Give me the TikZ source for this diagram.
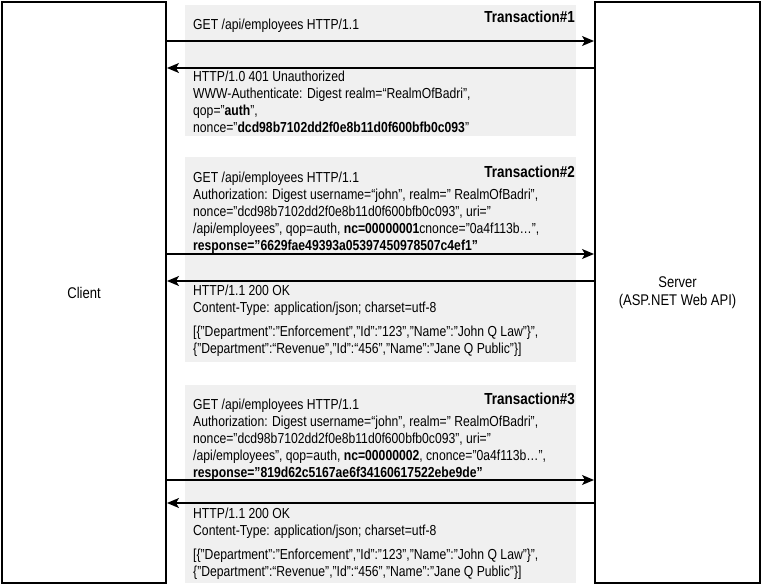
\documentclass[tikz,border=0pt]{standalone}
\usepackage{fontspec}
\setmainfont[FakeStretch=0.84]{Liberation Sans}
\usepackage{tikz}
\usetikzlibrary{arrows.meta}

\begin{document}
\begin{tikzpicture}[x=1pt,y=-1pt,
    hostbox/.style={draw=black, line width=2pt, minimum height=581pt, align=center, font=\fontsize{15.5}{18}\selectfont},
    msgarrow/.style={black, line width=1.3pt, -{Stealth[length=12pt,width=10pt,inset=3pt]}},
    msgtext/.style={anchor=north west, inner sep=0pt, align=left, font=\fontsize{14.5}{17}\selectfont},
    txlabel/.style={anchor=base east, inner sep=0pt, font=\fontsize{16}{18}\selectfont\bfseries},
    graybg/.style={fill=black!6}]
        \useasboundingbox (0,0) rectangle (763,585);

        % shaded transaction bands
        \fill[graybg] (185,5) rectangle (576,136);
        \fill[graybg] (185,157) rectangle (576,362);
        \fill[graybg] (185,385) rectangle (576,583);

        % the two hosts
        \node[hostbox, minimum width=164pt] (client) at (84,292.5) {Client};
        \node[hostbox, minimum width=165pt] (server) at (677.5,292.5) {Server\\(ASP.NET Web API)};

        % rows of the messages
        \coordinate (req1) at (0,41);
        \coordinate (res1) at (0,68);
        \coordinate (req2) at (0,254);
        \coordinate (res2) at (0,281);
        \coordinate (req3) at (0,480);
        \coordinate (res3) at (0,503);

        \draw[msgarrow] (client.east |- req1) -- (server.west |- req1);
        \draw[msgarrow] (server.west |- res1) -- (client.east |- res1);
        \draw[msgarrow] (client.east |- req2) -- (server.west |- req2);
        \draw[msgarrow] (server.west |- res2) -- (client.east |- res2);
        \draw[msgarrow] (client.east |- req3) -- (server.west |- req3);
        \draw[msgarrow] (server.west |- res3) -- (client.east |- res3);

        % transaction 1
        \node[txlabel] (tx1) at (575,23) {Transaction\#1};
        \node[msgtext] (req1text) at (193,19) {GET /api/employees HTTP/1.1};
        \node[msgtext] (res1text) at (193,71) {HTTP/1.0 401 Unauthorized\\
            WWW-Authenticate: Digest realm=“RealmOfBadri",\\
            qop="\textbf{auth}",\\
            nonce="\textbf{dcd98b7102dd2f0e8b11d0f600bfb0c093}"};

        % transaction 2
        \node[txlabel] (tx2) at (575,178) {Transaction\#2};
        \node[msgtext] (req2text) at (193,172) {GET /api/employees HTTP/1.1\\
            Authorization: Digest username=“john", realm=" RealmOfBadri",\\
            nonce="dcd98b7102dd2f0e8b11d0f600bfb0c093", uri="\\
            /api/employees", qop=auth, \textbf{nc=00000001}cnonce="0a4f113b…",\\
            \textbf{response="6629fae49393a05397450978507c4ef1"}};
        \node[msgtext] (res2text) at (193,285) {HTTP/1.1 200 OK\\
            Content-Type: application/json; charset=utf-8\\[7pt]
            [\{"Department":"Enforcement","Id":"123","Name":"John Q Law"\}",\\
            \{"Department":“Revenue","Id":“456","Name":"Jane Q Public"\}]};

        % transaction 3
        \node[txlabel] (tx3) at (575,404) {Transaction\#3};
        \node[msgtext] (req3text) at (193,399) {GET /api/employees HTTP/1.1\\
            Authorization: Digest username=“john", realm=" RealmOfBadri",\\
            nonce="dcd98b7102dd2f0e8b11d0f600bfb0c093", uri="\\
            /api/employees", qop=auth, \textbf{nc=00000002}, cnonce="0a4f113b…",\\
            \textbf{response="819d62c5167ae6f34160617522ebe9de"}};
        \node[msgtext] (res3text) at (193,508) {HTTP/1.1 200 OK\\
            Content-Type: application/json; charset=utf-8\\[7pt]
            [\{"Department":"Enforcement","Id":"123","Name":"John Q Law"\}",\\
            \{"Department":“Revenue","Id":“456","Name":"Jane Q Public"\}]};
      \end{tikzpicture}
\end{document}
